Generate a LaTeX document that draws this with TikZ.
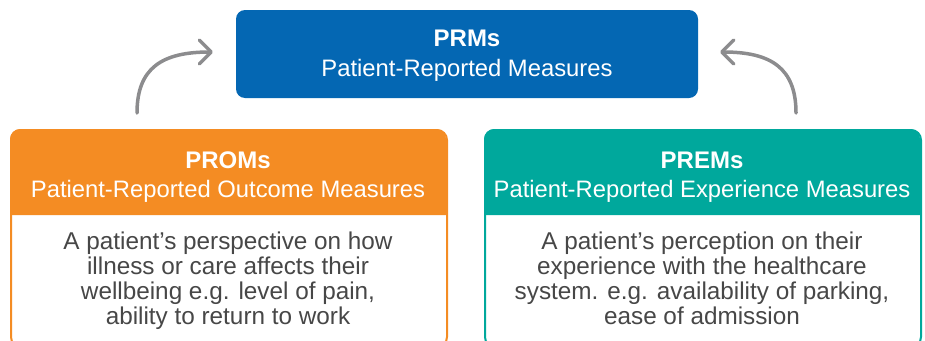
\documentclass[tikz,border=0pt]{standalone}
\usepackage{fontspec}
\setmainfont{Liberation Sans}
\usetikzlibrary{arrows.meta}
\definecolor{prmblue}{HTML}{0467B3}
\definecolor{promorange}{HTML}{F48C23}
\definecolor{premteal}{HTML}{00A89C}
\definecolor{arrowgray}{HTML}{8C8C8E}
\definecolor{bodygray}{HTML}{474747}
\begin{document}
\begin{tikzpicture}[x=1pt,y=-1pt,
  titlefont/.style={font=\bfseries\fontsize{24}{24}\selectfont, text=white, anchor=base},
  subfont/.style={font=\fontsize{23.8}{24}\selectfont, text=white, anchor=base},
  bodyfont/.style={font=\fontsize{24.3}{25}\selectfont, text=bodygray, anchor=base, align=center},
  panel/.style={draw=#1, line width=2pt, fill=white, rounded corners=10pt, minimum width=436pt, minimum height=217pt, inner sep=0pt, anchor=north west},
  curvearrow/.style={draw=arrowgray, line width=3.5pt, line cap=round, -{Straight Barb[length=12pt,width=24pt,line cap=round,line join=round]}}
]
\useasboundingbox (0,0) rectangle (925,340);

% top box
\node[fill=prmblue, rounded corners=9pt, minimum width=462pt, minimum height=88pt, inner sep=0pt] (prm) at (467,54) {};
\node[titlefont] (prmt) at (467,46) {PRMs};
\node[subfont] (prms) at (467,76) {Patient-Reported Measures};

% left panel
\node[panel=promorange] (prom) at (10,129) {};
\fill[promorange] (10,215) [rounded corners=10pt] -- (10,129) -- (446,129) [sharp corners] -- (446,215) -- cycle;
\node[titlefont] (promt) at (228,168) {PROMs};
\node[subfont] (proms) at (228,197) {Patient-Reported Outcome Measures};
\node[bodyfont] (promb) at (228,324) {A patient’s perspective on how\\illness or care affects their\\wellbeing e.g. level of pain,\\ability to return to work};

% right panel
\node[panel=premteal] (prem) at (484,129) {};
\fill[premteal] (484,215) [rounded corners=10pt] -- (484,129) -- (920,129) [sharp corners] -- (920,215) -- cycle;
\node[titlefont] (premt) at (702,168) {PREMs};
\node[subfont] (prems) at (702,197) {Patient-Reported Experience Measures};
\node[bodyfont] (premb) at (702,324) {A patient’s perception on their\\experience with the healthcare\\system. e.g. availability of parking,\\ease of admission};

% arrows
\coordinate (la) at (137,113);
\coordinate (lb) at (213,52);
\coordinate (ra) at (796,113);
\coordinate (rb) at (720,52);
\draw[curvearrow] (la) .. controls (137,68) and (162,52) .. (lb);
\draw[curvearrow] (ra) .. controls (796,68) and (771,52) .. (rb);
\end{tikzpicture}
\end{document}
